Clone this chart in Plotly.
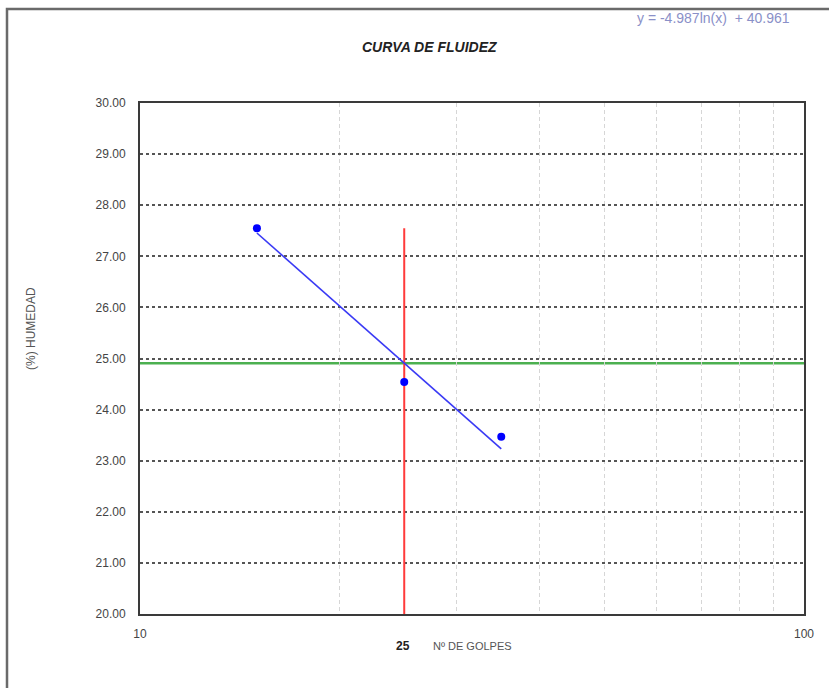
import numpy as np
import plotly.graph_objects as go

# Ensayo de límite líquido: número de golpes vs. contenido de humedad
golpes = [15, 25, 35]
humedad = [27.55, 24.54, 23.47]

# Curva de fluidez (ajuste logarítmico)
coef_a = -4.987
coef_b = 40.961
golpes_ref = 25

y_ticks = [20, 21, 22, 23, 24, 25, 26, 27, 28, 29, 30]
x_ticks = [10, 100]
x_minor = [20, 30, 40, 50, 60, 70, 80, 90]

x_fit = np.exp(np.linspace(np.log(min(golpes)), np.log(max(golpes)), 30))
y_fit = coef_a * np.log(x_fit) + coef_b
ll = coef_a * np.log(golpes_ref) + coef_b

font = "Liberation Sans, Arial, sans-serif"
fig = go.Figure()

# vertical line at 25 golpes
fig.add_trace(go.Scatter(x=[golpes_ref, golpes_ref], y=[20, max(humedad)], mode="lines",
                         line=dict(color="#ff3b3b", width=2),
                         hoverinfo="skip", showlegend=False))
# trend line
fig.add_trace(go.Scatter(x=x_fit, y=y_fit, mode="lines",
                         line=dict(color="#3a3af5", width=1.6),
                         showlegend=False))
# measured points
fig.add_trace(go.Scatter(x=golpes, y=humedad, mode="markers",
                         marker=dict(color="#0000ff", size=8),
                         showlegend=False))

fig.update_xaxes(type="log", range=[1, 2],
                 tickmode="array", tickvals=x_ticks, ticktext=[str(v) for v in x_ticks],
                 ticks="", showgrid=False, ticklabelstandoff=8,
                 minor=dict(tickmode="array", tickvals=x_minor, showgrid=True,
                            gridcolor="#d6d6d6", griddash="4px,3px", gridwidth=1, ticks=""),
                 showline=True, linecolor="#3a3a3a", linewidth=2, mirror=True,
                 tickfont=dict(family=font, size=12, color="#444444"), zeroline=False)
fig.update_yaxes(range=[20, 30], tickmode="array", tickvals=y_ticks,
                 ticktext=[f"{v:.2f}" for v in y_ticks],
                 ticks="", showgrid=True, gridcolor="#555555", griddash="dot", gridwidth=1.6,
                 ticklabelstandoff=10,
                 showline=True, linecolor="#3a3a3a", linewidth=2, mirror=True,
                 tickfont=dict(family=font, size=12, color="#444444"), zeroline=False)

L, R, T, B = 140, 25, 103, 74
W, H = 829, 688
pw, ph = W - L - R, H - T - B

def px(xpix):
    return (xpix - L) / pw

def py(ypix):
    return (H - B - ypix) / ph

annotations = [
    dict(text="<b><i>CURVA DE FLUIDEZ</i></b>", x=px(429), y=py(47),
         font=dict(family=font, size=14, color="#222222")),
    dict(text=f"y = {coef_a}ln(x)  + {coef_b}", x=px(713), y=py(18),
         font=dict(family=font, size=14, color="#8a90c8")),
    dict(text="(%) HUMEDAD", x=px(31), y=py(329), textangle=-90,
         font=dict(family=font, size=12, color="#555555")),
    dict(text=f"<b>{golpes_ref}</b>", x=px(403), y=py(646),
         font=dict(family=font, size=12, color="#222222")),
    dict(text="Nº DE GOLPES", x=px(472), y=py(646),
         font=dict(family=font, size=11, color="#555555")),
]
for a in annotations:
    a.update(xref="paper", yref="paper", showarrow=False, xanchor="center", yanchor="middle")

fig.update_layout(
    width=W, height=H,
    margin=dict(l=L, r=R, t=T, b=B),
    paper_bgcolor="white", plot_bgcolor="white",
    annotations=annotations,
    shapes=[
        # liquid-limit line across the plot area
        dict(type="line", xref="paper", yref="y", x0=0, x1=1, y0=ll, y1=ll,
             line=dict(color="#4cb050", width=2.5), layer="below"),
        # outer chart frame
        dict(type="path", xref="paper", yref="paper",
             path=f"M {px(7)},{py(720)} L {px(7)},{py(9)} L {px(860)},{py(9)}",
             line=dict(color="#6a6a6a", width=2.5), layer="above"),
    ],
)

fig.write_html("out.html")
